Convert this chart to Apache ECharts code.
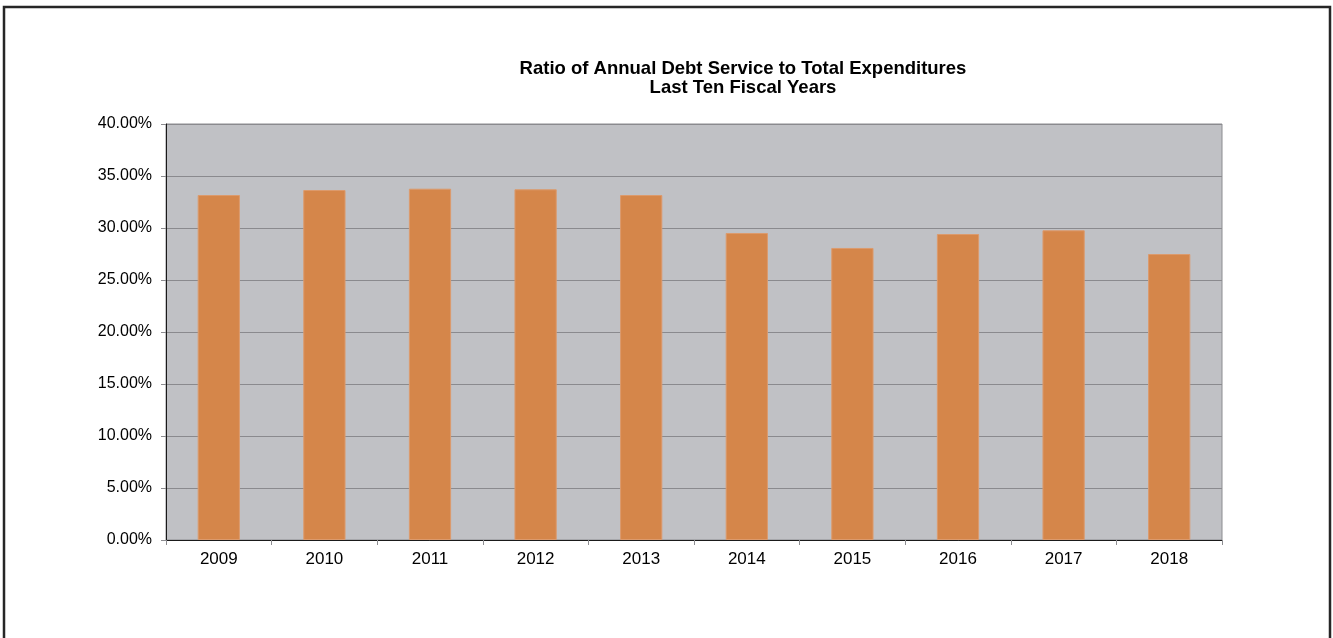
<!DOCTYPE html>
<html>
<head>
<meta charset="utf-8">
<script src="https://cdn.jsdelivr.net/npm/echarts@6/dist/echarts.min.js"></script>
<style>
  html, body { margin: 0; padding: 0; background: #ffffff; }
  #chart { width: 1333px; height: 638px; }
</style>
</head>
<body>
<div id="chart"></div>
<script>
// Fiscal years and debt service ratio (percent of total expenditures)
const years = ['2009', '2010', '2011', '2012', '2013', '2014', '2015', '2016', '2017', '2018'];
const debtRatio = [33.17, 33.65, 33.78, 33.72, 33.17, 29.52, 28.08, 29.42, 29.78, 27.50];
const titleLines = ['Ratio of Annual Debt Service to Total Expenditures', 'Last Ten Fiscal Years'];

const chart = echarts.init(document.getElementById('chart'), null, { renderer: 'canvas' });

const font = '"Liberation Sans", Arial, sans-serif';

chart.setOption({
  animation: false,
  backgroundColor: '#ffffff',
  title: {
    text: titleLines.join('\n'),
    left: 738,
    top: 54,
    textAlign: 'center',
    textStyle: {
      fontFamily: font,
      fontSize: 18.5,
      fontWeight: 'bold',
      color: '#000000',
      lineHeight: 19
    }
  },
  graphic: [
    {
      type: 'rect',
      shape: { x: 4, y: 7, width: 1326, height: 640 },
      style: { fill: null, stroke: '#262626', lineWidth: 2.5 },
      silent: true
    }
  ],
  grid: {
    left: 166,
    right: 111,
    top: 124,
    bottom: 98,
    show: true,
    backgroundColor: '#c0c1c5',
    borderColor: '#8c8c90',
    borderWidth: 1
  },
  xAxis: {
    type: 'category',
    data: years,
    axisLine: { lineStyle: { color: '#1a1a1a', width: 1 } },
    axisTick: { show: true, length: 5, lineStyle: { color: '#8c8c90' } },
    axisLabel: {
      fontFamily: font,
      fontSize: 17,
      color: '#000000',
      margin: 11
    }
  },
  yAxis: {
    type: 'value',
    min: 0,
    max: 40,
    interval: 5,
    axisLine: { show: true, lineStyle: { color: '#1a1a1a', width: 1 } },
    axisTick: { show: true, length: 5, lineStyle: { color: '#8c8c90' } },
    splitLine: { show: true, lineStyle: { color: '#8a8a8e', width: 1 } },
    axisLabel: {
      fontFamily: font,
      fontSize: 16,
      color: '#000000',
      margin: 14,
      formatter: v => v.toFixed(2) + '%'
    }
  },
  series: [
    {
      type: 'bar',
      data: debtRatio,
      barWidth: '40%',
      itemStyle: {
        color: '#d5864a',
        borderColor: '#dc9a6c',
        borderWidth: 1
      }
    }
  ]
});
</script>
</body>
</html>
